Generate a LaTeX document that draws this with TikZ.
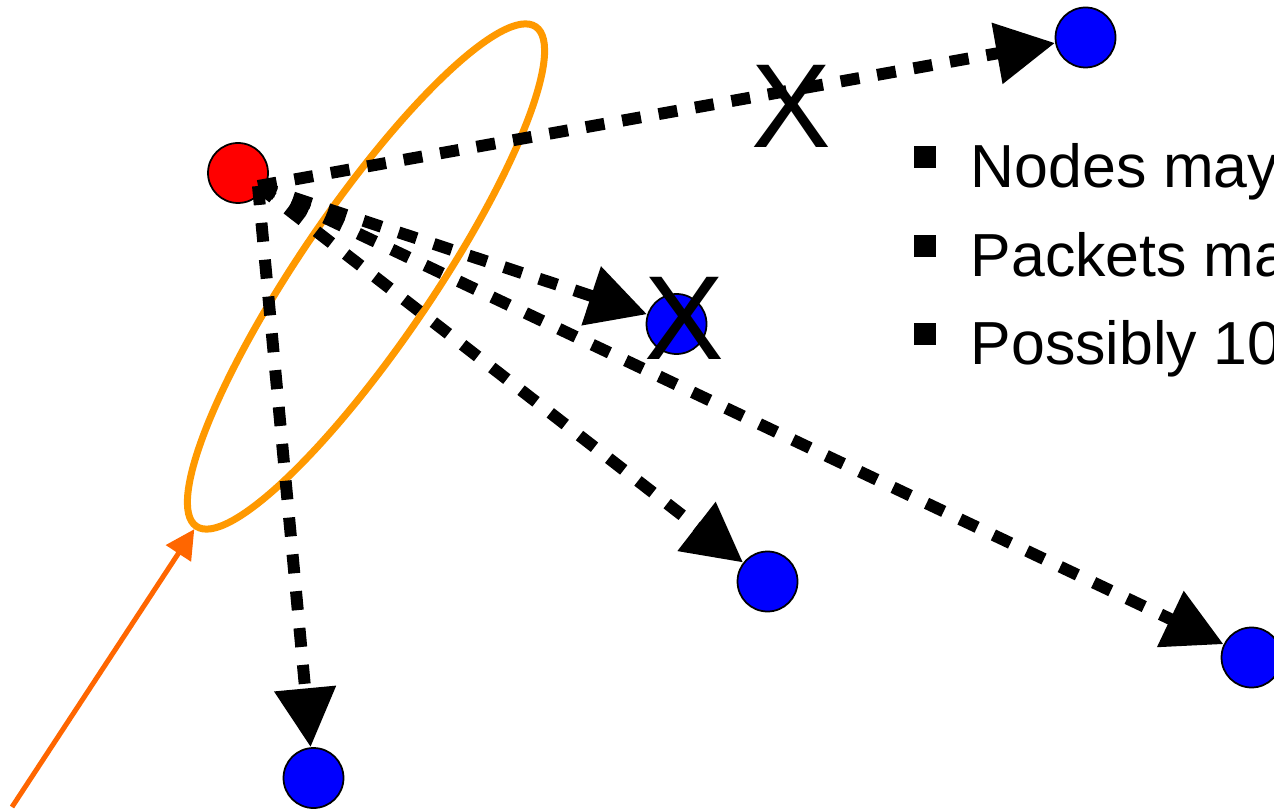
\documentclass[tikz,border=0pt]{standalone}
\usepackage{fontspec}
\setmainfont{Liberation Sans}
\usetikzlibrary{shapes,arrows,arrows.meta}
\usetikzlibrary{positioning}
\definecolor{ringorange}{HTML}{FF9900}
\definecolor{hintorange}{HTML}{FF6600}
\newcommand{\sqbullet}{\rule[0.2cm]{0.22cm}{0.22cm}\hspace{0.35cm}}
\tikzset{host/.style={circle,draw,line width=0.5pt,minimum size=0.6cm,inner sep=0pt},
lost/.style={inner sep=0pt,font=\fontsize{34}{34}\selectfont},
item/.style={anchor=base west,inner sep=0pt,font=\fontsize{17.3}{20}\selectfont}
}

\begin{document}
\begin{tikzpicture}[> = {Triangle[length=0.59cm,width=0.59cm]}]
            \useasboundingbox (0,0) rectangle (12.74,8.11);
            \clip (0,0) rectangle (12.74,8.11);
            % neighbourhood of the sender
            \node[ellipse,draw=ringorange,line width=0.07cm,minimum width=6.04cm,minimum height=1.34cm,inner sep=0pt,rotate=55.8] (grp) at (3.66,5.345) {};
            \node[host,fill=red] (n_0) at (2.38,6.38) {};
            \node[host,fill=blue] (n_1) at (10.855,7.735) {};
            \node[host,fill=blue] (n_2) at (6.765,4.87) {};
            \node[host,fill=blue] (n_3) at (7.675,2.295) {};
            \node[host,fill=blue] (n_4) at (12.515,1.535) {};
            \node[host,fill=blue] (n_5) at (3.135,0.33) {};
            \coordinate (src) at (2.58,6.25);
            \coordinate (tail) at (0.12,0.04);
            \path[->,line width=3.4pt,dash pattern=on 0.19cm off 0.18cm] (src) edge (n_1)
                (src) edge (n_2)
                (src) edge (n_3)
                (src) edge (n_4)
                (src) edge (n_5);
            \draw[-{Triangle[length=0.29cm,width=0.29cm]},hintorange,line width=0.05cm] (tail) -- (grp.west);
            \node[lost] (x_1) at (7.91,7.05) {X};
            \node[lost] (x_2) at (6.84,4.93) {X};
            \node[item] (t_1) at (9.13,6.23) {\sqbullet Nodes may};
            \node[item] (t_2) at (9.13,5.34) {\sqbullet Packets ma};
            \node[item] (t_3) at (9.13,4.46) {\sqbullet Possibly 10};
        \end{tikzpicture}
\end{document}
